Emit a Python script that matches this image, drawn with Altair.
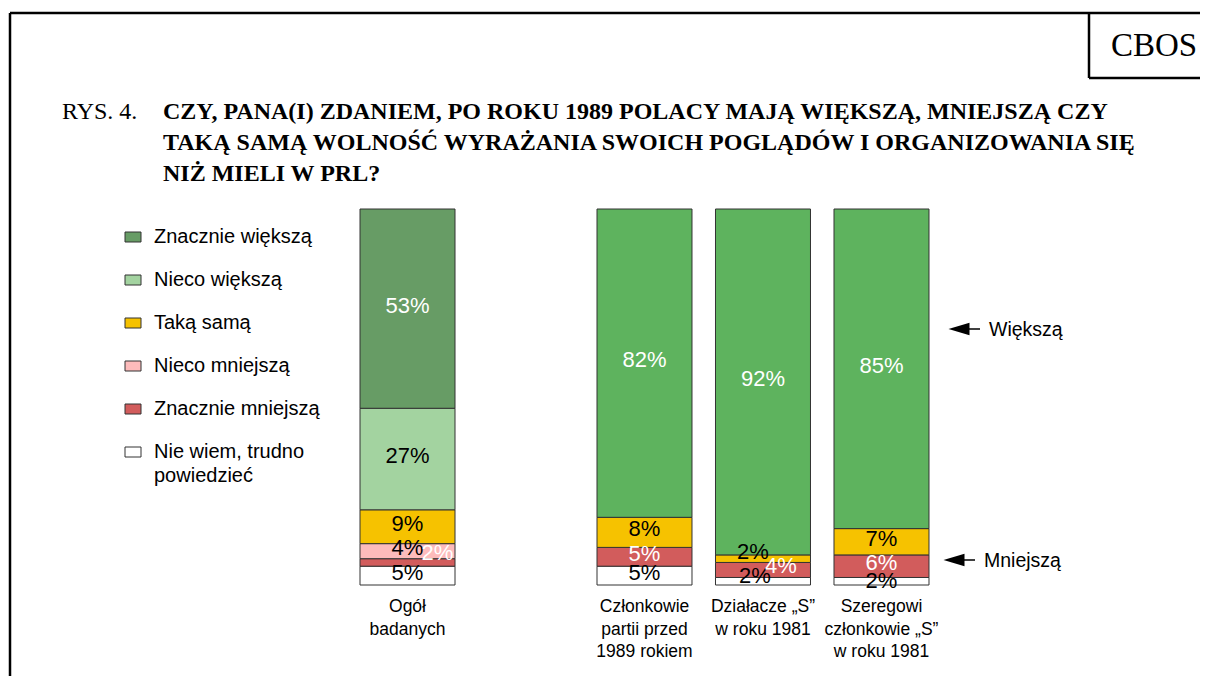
import altair as alt
import pandas as pd

# ---------------- data ----------------
groups = [
    "Ogół badanych",
    "Członkowie partii przed 1989 rokiem",
    "Działacze „S” w roku 1981",
    "Szeregowi członkowie „S” w roku 1981",
]
group_labels = [
    "Ogół\nbadanych",
    "Członkowie\npartii przed\n1989 rokiem",
    "Działacze „S”\nw roku 1981",
    "Szeregowi\nczłonkowie „S”\nw roku 1981",
]

# stack order: bottom -> top
categories = [
    "Nie wiem, trudno powiedzieć",
    "Znacznie mniejszą",
    "Nieco mniejszą",
    "Taką samą",
    "Nieco większą",
    "Większą",
    "Znacznie większą",
]
nie_wiem = [5, 5, 2, 2]
znacznie_mniejsza = [2, 5, 4, 6]
nieco_mniejsza = [4, None, None, None]
taka_sama = [9, 8, 2, 7]
nieco_wieksza = [27, None, None, None]
wieksza = [None, 82, 92, 85]
znacznie_wieksza = [53, None, None, None]
series = [nie_wiem, znacznie_mniejsza, nieco_mniejsza, taka_sama,
          nieco_wieksza, wieksza, znacznie_wieksza]

colors = {
    "Znacznie większą": "#679C65",
    "Nieco większą": "#A3D3A0",
    "Większą": "#5EB35E",
    "Taką samą": "#F6C200",
    "Nieco mniejszą": "#FDBBBB",
    "Znacznie mniejszą": "#D25C5C",
    "Nie wiem, trudno powiedzieć": "#FFFFFF",
}
white_text = {"Znacznie większą", "Większą", "Znacznie mniejszą"}

legend_items = [
    "Znacznie większą",
    "Nieco większą",
    "Taką samą",
    "Nieco mniejszą",
    "Znacznie mniejszą",
    "Nie wiem, trudno powiedzieć",
]
legend_texts = [
    "Znacznie większą",
    "Nieco większą",
    "Taką samą",
    "Nieco mniejszą",
    "Znacznie mniejszą",
    "Nie wiem, trudno\npowiedzieć",
]

title_lines = [
    "CZY, PANA(I) ZDANIEM, PO ROKU 1989 POLACY MAJĄ WIĘKSZĄ, MNIEJSZĄ CZY",
    "TAKĄ SAMĄ WOLNOŚĆ WYRAŻANIA SWOICH POGLĄDÓW I ORGANIZOWANIA SIĘ",
    "NIŻ MIELI W PRL?",
]

# ---------------- build table ----------------
rows = []
for gi, g in enumerate(groups):
    base = 0.0
    for ci, c in enumerate(categories):
        v = series[ci][gi]
        if v is None:
            continue
        rows.append({
            "group": g, "category": c, "value": v,
            "lo": base, "hi": base + v, "mid": base + v / 2,
            "label": f"{v}%",
            "tcolor": "white" if c in white_text else "black",
        })
        base += v
df = pd.DataFrame(rows)

# label nudges (pixels) for crowded segments
nudges = {
    ("Ogół badanych", "Nieco mniejszą"): (0, -3),
    ("Ogół badanych", "Znacznie mniejszą"): (30, -9),
    ("Działacze „S” w roku 1981", "Taką samą"): (-10, -7),
    ("Działacze „S” w roku 1981", "Znacznie mniejszą"): (18, -4),
    ("Działacze „S” w roku 1981", "Nie wiem, trudno powiedzieć"): (-8, -5),
    ("Szeregowi członkowie „S” w roku 1981", "Nie wiem, trudno powiedzieć"): (0, 0),
}
df["nudge"] = [
    "%d_%d" % nudges.get((g, c), (0, -3)) for g, c in zip(df["group"], df["category"])
]

gl = pd.DataFrame({"group": groups, "glabel": group_labels})

x_domain = [groups[0], " ", groups[1], groups[2], groups[3]]
x_scale = alt.Scale(domain=x_domain, range=[340.25, 932.75], round=False,
                    paddingInner=0.1983, paddingOuter=0.0992)
y_scale = alt.Scale(domain=[0, 100], range=[577, 201], nice=False)
c_scale = alt.Scale(domain=list(colors.keys()), range=list(colors.values()))

SANS = "Liberation Sans"
SERIF = "Liberation Serif"

layers = []

bars = alt.Chart(df).mark_bar(stroke="#333333", strokeWidth=1).encode(
    x=alt.X("group:N", scale=x_scale, axis=None),
    y=alt.Y("lo:Q", scale=y_scale, axis=None),
    y2="hi:Q",
    color=alt.Color("category:N", scale=c_scale, legend=None),
)
layers.append(bars)

for nk in sorted(df["nudge"].unique()):
    dx, dy = [int(v) for v in nk.split("_")]
    layers.append(
        alt.Chart(df).transform_filter(alt.datum.nudge == nk).mark_text(
            font=SANS, fontSize=22, dx=dx, dy=dy, baseline="middle", align="center"
        ).encode(
            x=alt.X("group:N", scale=x_scale, axis=None),
            y=alt.Y("mid:Q", scale=y_scale, axis=None),
            text="label:N",
            color=alt.Color("tcolor:N", scale=None),
        )
    )

layers.append(
    alt.Chart(gl).mark_text(
        font=SANS, fontSize=17.5, baseline="top", align="center",
        lineBreak="\n", lineHeight=22.5, color="black"
    ).encode(
        x=alt.X("group:N", scale=x_scale, axis=None),
        y=alt.value(590),
        text="glabel:N",
    )
)

one = pd.DataFrame({"k": [0]})

# legend (manual)
for i, (cat, txt) in enumerate(zip(legend_items, legend_texts)):
    cy = 229 + 43 * i
    layers.append(
        alt.Chart(one).mark_rect(stroke="#333333", strokeWidth=1, color=colors[cat]).encode(
            x=alt.value(117), x2=alt.value(133), y=alt.value(cy - 5), y2=alt.value(cy + 5)
        )
    )
    layers.append(
        alt.Chart(one).mark_text(
            font=SANS, fontSize=20, align="left", baseline="middle",
            lineBreak="\n", lineHeight=24, color="black"
        ).encode(
            x=alt.value(146), y=alt.value(cy), text=alt.value(txt)
        )
    )

# title
layers.append(
    alt.Chart(one).mark_text(font=SERIF, fontSize=24, align="left",
                             baseline="alphabetic", color="black").encode(
        x=alt.value(54), y=alt.value(111), text=alt.value("RYS. 4.")
    )
)
layers.append(
    alt.Chart(one).mark_text(font=SERIF, fontSize=24, fontWeight="bold", align="left",
                             baseline="alphabetic", lineBreak="\n", lineHeight=31,
                             color="black").encode(
        x=alt.value(155), y=alt.value(111), text=alt.value("\n".join(title_lines))
    )
)

# CBOS box
layers.append(
    alt.Chart(one).mark_text(font=SERIF, fontSize=33, align="center",
                             baseline="middle", color="black").encode(
        x=alt.value(1146), y=alt.value(38), text=alt.value("CBOS")
    )
)
for (x1, x2, y1, y2) in [(2, 1192, 5, 5), (2, 2, 5, 668), (1081, 1081, 5, 70), (1081, 1192, 70, 70)]:
    layers.append(
        alt.Chart(one).mark_rule(color="black", strokeWidth=2.5).encode(
            x=alt.value(x1), x2=alt.value(x2), y=alt.value(y1), y2=alt.value(y2)
        )
    )

# arrows
for (ax, ay, txt) in [(951, 321, "Większą"), (946, 552, "Mniejszą")]:
    layers.append(
        alt.Chart(one).mark_point(shape="M-1,0L1,-0.6L1,0.6Z", filled=True,
                                  color="black", opacity=1, size=440).encode(
            x=alt.value(ax), y=alt.value(ay)
        )
    )
    layers.append(
        alt.Chart(one).mark_rule(color="black", strokeWidth=1.5).encode(
            x=alt.value(ax + 8), x2=alt.value(ax + 21), y=alt.value(ay), y2=alt.value(ay)
        )
    )
    layers.append(
        alt.Chart(one).mark_text(font=SANS, fontSize=19.5, align="left",
                                 baseline="middle", color="black").encode(
            x=alt.value(ax + 30), y=alt.value(ay + 1), text=alt.value(txt)
        )
    )

chart = alt.layer(*layers).properties(
    width=1192, height=668, padding=0,
    autosize=alt.AutoSizeParams(type="none"),
).configure_view(stroke=None)

chart.save("out.html", embed_options={"renderer": "svg", "actions": False})
